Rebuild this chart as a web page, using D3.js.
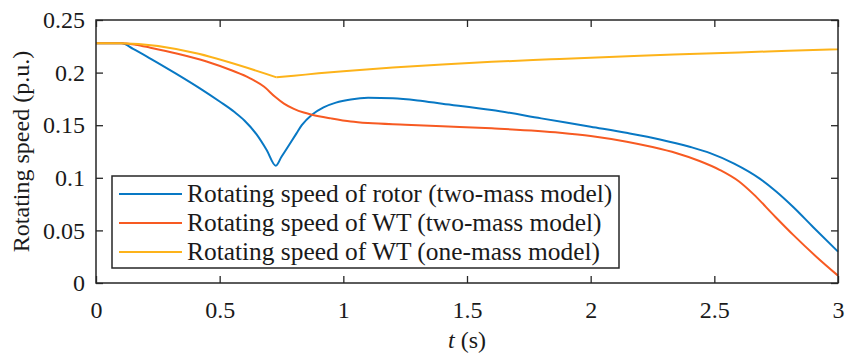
<!DOCTYPE html>
<html>
<head>
<meta charset="utf-8">
<script src="https://cdn.jsdelivr.net/npm/d3@7"></script>
<style>
  body { margin: 0; background: #fff; }
  text { font-family: 'Liberation Serif', 'Times New Roman', serif; fill: #1a1a1a; }
</style>
</head>
<body>
<script>
// Rotor speed, two-mass model
const tRotor = [0, 0.104, 0.15, 0.218, 0.32, 0.42, 0.5, 0.56, 0.6, 0.65, 0.69, 0.727,
  0.75, 0.78, 0.81, 0.832, 0.873, 0.92, 0.97, 1.03, 1.1, 1.2, 1.3, 1.4, 1.6, 1.8,
  2.0, 2.15, 2.28, 2.4, 2.483, 2.58, 2.685, 2.75, 2.82, 2.9, 3.0];
const wRotor = [0.228, 0.228, 0.2225, 0.2136, 0.1995, 0.185, 0.1725, 0.1625, 0.1545, 0.141, 0.1265, 0.1115,
  0.120, 0.131, 0.142, 0.150, 0.160, 0.167, 0.1715, 0.1745, 0.176, 0.1755, 0.1735, 0.1705, 0.1645, 0.1565,
  0.1485, 0.1425, 0.1365, 0.1295, 0.1235, 0.1135, 0.099, 0.087, 0.072, 0.053, 0.0298];

// WT speed, two-mass model
const tWt2 = [0, 0.1, 0.16, 0.22, 0.33, 0.447, 0.55, 0.623, 0.68, 0.724, 0.76, 0.8, 0.84,
  0.873, 0.95, 1.03, 1.1, 1.25, 1.4, 1.6, 1.876, 2.0, 2.146, 2.25, 2.348, 2.44, 2.523,
  2.6, 2.658, 2.74, 2.82, 2.91, 3.0];
const wWt2 = [0.228, 0.228, 0.2265, 0.2237, 0.218, 0.2106, 0.202, 0.1946, 0.1865, 0.177, 0.1705, 0.1655, 0.162,
  0.160, 0.1565, 0.1535, 0.152, 0.1505, 0.149, 0.147, 0.1429, 0.1398, 0.1343, 0.1292, 0.1233, 0.116, 0.1074,
  0.0965, 0.0845, 0.0645, 0.0455, 0.0255, 0.007];

// WT speed, one-mass model
const tWt1 = [0, 0.1, 0.73, 0.8, 0.9, 1.0, 1.2, 1.4, 1.6, 1.838, 2.0, 2.2, 2.4, 2.6, 2.8, 3.0];
const wWt1 = [0.228, 0.228, 0.1955, 0.197, 0.1993, 0.2013, 0.2048, 0.2077, 0.2102, 0.2126, 0.2142,
  0.2160, 0.2176, 0.2192, 0.2207, 0.2222];

const seriesNames = [
  'Rotating speed of rotor (two-mass model)',
  'Rotating speed of WT (two-mass model)',
  'Rotating speed of WT (one-mass model)'
];
const seriesColors = ['#0878c4', '#f75a22', '#fdb31a'];

const xTicks = [0, 0.5, 1, 1.5, 2, 2.5, 3];
const yTicks = [0, 0.05, 0.1, 0.15, 0.2, 0.25];

const width = 845;
const height = 354;
const margin = { top: 20, right: 7, bottom: 71, left: 96 };
const axisColor = '#262626';

const svg = d3.select('body')
  .append('svg')
  .attr('width', width)
  .attr('height', height);

const xScale = d3.scaleLinear()
  .domain([0, 3])
  .range([margin.left, width - margin.right]);

const yScale = d3.scaleLinear()
  .domain([0, 0.25])
  .range([height - margin.bottom, margin.top]);

const fmt = d => String(d);

// Axes, ticks pointing inward
const styleAxis = g => {
  g.select('.domain').remove();
  g.attr('font-family', null);
  g.selectAll('line').attr('stroke', axisColor).attr('stroke-width', 1.3);
  g.selectAll('text').attr('font-size', 24).attr('fill', '#1a1a1a');
};

svg.append('g')
  .attr('transform', `translate(0, ${yScale(0)})`)
  .call(d3.axisBottom(xScale).tickValues(xTicks).tickFormat(fmt).tickSizeInner(-7).tickSizeOuter(0).tickPadding(18))
  .call(styleAxis);

svg.append('g')
  .attr('transform', `translate(0, ${yScale(0.25)})`)
  .call(d3.axisTop(xScale).tickValues(xTicks).tickFormat('').tickSizeInner(-7).tickSizeOuter(0))
  .call(styleAxis);

svg.append('g')
  .attr('transform', `translate(${xScale(0)}, 0)`)
  .call(d3.axisLeft(yScale).tickValues(yTicks).tickFormat(fmt).tickSizeInner(-7).tickSizeOuter(0).tickPadding(11))
  .call(styleAxis);

svg.append('g')
  .attr('transform', `translate(${xScale(3)}, 0)`)
  .call(d3.axisRight(yScale).tickValues(yTicks).tickFormat('').tickSizeInner(-7).tickSizeOuter(0))
  .call(styleAxis);

// Lines: smooth curves, split at the minimum so the cusp stays sharp
const series = [
  tRotor.map((t, i) => [t, wRotor[i]]),
  tWt2.map((t, i) => [t, wWt2[i]]),
  tWt1.map((t, i) => [t, wWt1[i]])
];

const line = d3.line()
  .x(d => xScale(d[0]))
  .y(d => yScale(d[1]))
  .curve(d3.curveMonotoneX);

const pieces = [];
series.forEach((pts, i) => {
  const k = d3.minIndex(pts, d => d[1]);
  if (k > 0 && k < pts.length - 1) {
    pieces.push({ pts: pts.slice(0, k + 1), i });
    pieces.push({ pts: pts.slice(k), i });
  } else {
    pieces.push({ pts, i });
  }
});

svg.append('g')
  .selectAll('path')
  .data(pieces)
  .enter()
  .append('path')
  .attr('d', d => line(d.pts))
  .attr('fill', 'none')
  .attr('stroke', d => seriesColors[d.i])
  .attr('stroke-width', 2)
  .attr('stroke-linejoin', 'round');

// Plot box
svg.append('rect')
  .attr('x', xScale(0))
  .attr('y', yScale(0.25))
  .attr('width', xScale(3) - xScale(0))
  .attr('height', yScale(0) - yScale(0.25))
  .attr('fill', 'none')
  .attr('stroke', axisColor)
  .attr('stroke-width', 1.5);

// Legend
const leg = svg.append('g').attr('transform', 'translate(112, 176)');

leg.append('rect')
  .attr('width', 507)
  .attr('height', 92)
  .attr('fill', '#fff')
  .attr('stroke', axisColor)
  .attr('stroke-width', 1.5);

const rows = leg.selectAll('g.row')
  .data(seriesNames)
  .enter()
  .append('g')
  .attr('class', 'row')
  .attr('transform', (d, i) => `translate(0, ${18 + i * 29})`);

rows.append('line')
  .attr('x1', 7)
  .attr('x2', 70)
  .attr('stroke', (d, i) => seriesColors[i])
  .attr('stroke-width', 2);

rows.append('text')
  .attr('x', 75)
  .attr('y', 8)
  .attr('font-size', 25.4)
  .text(d => d);

// Axis titles
svg.append('text')
  .attr('text-anchor', 'middle')
  .attr('transform', `translate(29, ${(yScale(0) + yScale(0.25)) / 2}) rotate(-90)`)
  .attr('font-size', 24)
  .text('Rotating speed (p.u.)');

const xLabel = svg.append('text')
  .attr('x', (xScale(0) + xScale(3)) / 2)
  .attr('y', 348)
  .attr('text-anchor', 'middle')
  .attr('font-size', 24);
xLabel.append('tspan').attr('font-style', 'italic').text('t');
xLabel.append('tspan').text(' (s)');
</script>
</body>
</html>
